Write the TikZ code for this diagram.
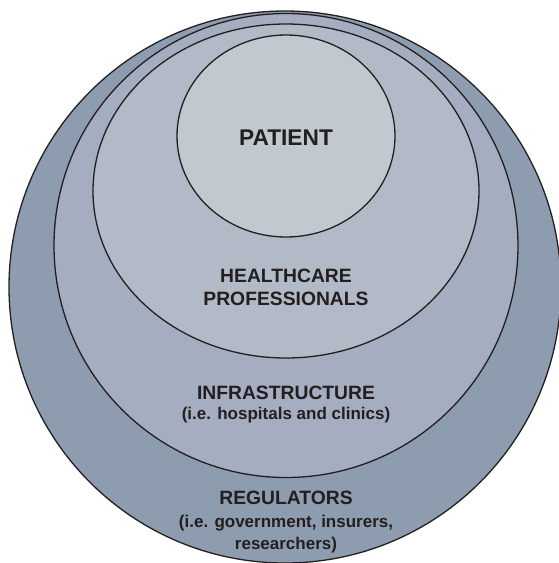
\documentclass[tikz,border=0pt]{standalone}
\usepackage{fontspec}
\setmainfont{Liberation Sans}
\definecolor{regul}{HTML}{8E9CB0}
\definecolor{infra}{HTML}{A5ADC1}
\definecolor{health}{HTML}{B1BAC6}
\definecolor{pat}{HTML}{C0C8D0}
\definecolor{inkline}{HTML}{231F20}
\begin{document}
\begin{tikzpicture}[x=1pt,y=-1pt,line width=1.3pt,
  ring/.style={draw=inkline,fill=#1},
  head/.style={font=\fontsize{19.3}{23}\selectfont\bfseries,align=center,text=inkline,inner sep=0pt,anchor=base}]
\useasboundingbox (0,0) rectangle (559,563);
\draw[ring=regul] (285,287) circle (276);
\draw[ring=infra] (286,245.5) circle (232);
\draw[ring=health] (286,191) ellipse (193 and 167);
\draw[ring=pat] (286,136) ellipse (109 and 101);
% base anchor = baseline of the last line
\node[head,font=\fontsize{22.7}{27}\selectfont\bfseries] (patient) at (286,145) {PATIENT};
\node[head] (health) at (286,305) {HEALTHCARE\\PROFESSIONALS};
\node[head] (infra) at (286,419) {INFRASTRUCTURE\\[-3pt]{\fontsize{17}{20}\selectfont(i.e. hospitals and clinics)}};
\node[head] (regul) at (286,549) {REGULATORS\\{\fontsize{17}{20}\selectfont(i.e. government, insurers,}\\[-1pt]{\fontsize{17}{20}\selectfont researchers)}};
\end{tikzpicture}
\end{document}
